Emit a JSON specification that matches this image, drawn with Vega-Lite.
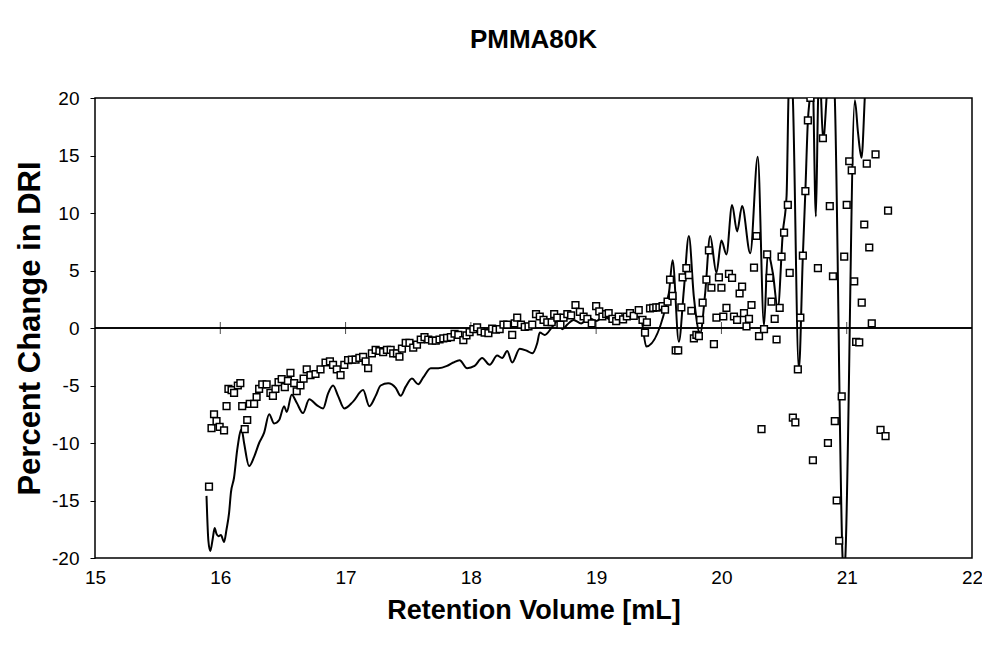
{
  "$schema": "https://vega.github.io/schema/vega-lite/v6.json",
  "width": 877,
  "height": 460,
  "autosize": {"type": "none"},
  "padding": {"left": 95, "top": 98, "right": 10, "bottom": 87},
  "background": "white",
  "title": {"text": "PMMA80K", "fontSize": 26, "font": "Liberation Sans", "fontWeight": "bold", "anchor": "middle", "offset": 36, "color": "black"},
  "config": {"view": {"stroke": "black", "strokeWidth": 1.5}, "font": "Liberation Sans"},
  "datasets": {
    "squares": [
      {"volume": 15.91, "change": -13.8}, {"volume": 15.93, "change": -8.7}, {"volume": 15.95, "change": -7.5}, {"volume": 15.97, "change": -8.1},
      {"volume": 15.995, "change": -8.6}, {"volume": 16.03, "change": -8.9}, {"volume": 16.05, "change": -6.8}, {"volume": 16.065, "change": -5.3},
      {"volume": 16.09, "change": -5.4}, {"volume": 16.11, "change": -5.65}, {"volume": 16.14, "change": -5.0}, {"volume": 16.16, "change": -4.8},
      {"volume": 16.175, "change": -6.8}, {"volume": 16.195, "change": -8.8}, {"volume": 16.215, "change": -8.0}, {"volume": 16.235, "change": -6.6},
      {"volume": 16.27, "change": -6.6}, {"volume": 16.29, "change": -6.0}, {"volume": 16.31, "change": -5.3}, {"volume": 16.335, "change": -4.9},
      {"volume": 16.37, "change": -4.9}, {"volume": 16.4, "change": -5.65}, {"volume": 16.42, "change": -5.9}, {"volume": 16.44, "change": -5.3},
      {"volume": 16.465, "change": -4.7}, {"volume": 16.49, "change": -4.45}, {"volume": 16.515, "change": -5.15}, {"volume": 16.54, "change": -4.6},
      {"volume": 16.56, "change": -3.9}, {"volume": 16.59, "change": -4.8}, {"volume": 16.61, "change": -5.5}, {"volume": 16.64, "change": -5.0},
      {"volume": 16.665, "change": -4.4}, {"volume": 16.69, "change": -3.6}, {"volume": 16.72, "change": -4.1}, {"volume": 16.76, "change": -4.0},
      {"volume": 16.8, "change": -3.6}, {"volume": 16.84, "change": -3.0}, {"volume": 16.875, "change": -2.9}, {"volume": 16.9, "change": -3.2},
      {"volume": 16.93, "change": -3.6}, {"volume": 16.96, "change": -4.1}, {"volume": 16.99, "change": -3.2}, {"volume": 17.02, "change": -2.8},
      {"volume": 17.05, "change": -2.75}, {"volume": 17.08, "change": -2.75}, {"volume": 17.11, "change": -2.6}, {"volume": 17.14, "change": -2.5},
      {"volume": 17.16, "change": -2.9}, {"volume": 17.18, "change": -3.5}, {"volume": 17.21, "change": -2.2}, {"volume": 17.24, "change": -1.9},
      {"volume": 17.27, "change": -2.0}, {"volume": 17.3, "change": -2.1}, {"volume": 17.33, "change": -1.9}, {"volume": 17.36, "change": -1.9},
      {"volume": 17.38, "change": -2.2}, {"volume": 17.41, "change": -2.2}, {"volume": 17.43, "change": -2.5}, {"volume": 17.45, "change": -1.8},
      {"volume": 17.48, "change": -1.3}, {"volume": 17.51, "change": -1.3}, {"volume": 17.54, "change": -1.7}, {"volume": 17.57, "change": -1.45},
      {"volume": 17.6, "change": -1.0}, {"volume": 17.63, "change": -0.8}, {"volume": 17.66, "change": -1.0}, {"volume": 17.69, "change": -1.1},
      {"volume": 17.72, "change": -1.1}, {"volume": 17.75, "change": -1.0}, {"volume": 17.78, "change": -0.9}, {"volume": 17.81, "change": -0.85},
      {"volume": 17.84, "change": -0.8}, {"volume": 17.87, "change": -0.5}, {"volume": 17.9, "change": -0.6}, {"volume": 17.94, "change": -1.05},
      {"volume": 17.965, "change": -0.65}, {"volume": 17.99, "change": -0.35}, {"volume": 18.02, "change": -0.1}, {"volume": 18.05, "change": 0.05},
      {"volume": 18.08, "change": -0.3}, {"volume": 18.11, "change": -0.4}, {"volume": 18.14, "change": -0.45}, {"volume": 18.17, "change": -0.05},
      {"volume": 18.2, "change": -0.15}, {"volume": 18.23, "change": -0.1}, {"volume": 18.26, "change": 0.3}, {"volume": 18.29, "change": 0.3},
      {"volume": 18.33, "change": -0.6}, {"volume": 18.35, "change": 0.4}, {"volume": 18.37, "change": 0.9}, {"volume": 18.4, "change": 0.3},
      {"volume": 18.43, "change": 0.1}, {"volume": 18.46, "change": 0.15}, {"volume": 18.49, "change": 0.3}, {"volume": 18.52, "change": 1.2},
      {"volume": 18.55, "change": 1.0}, {"volume": 18.58, "change": 0.7}, {"volume": 18.61, "change": 0.5}, {"volume": 18.645, "change": 0.5},
      {"volume": 18.665, "change": 1.2}, {"volume": 18.69, "change": 0.9}, {"volume": 18.715, "change": 0.3}, {"volume": 18.74, "change": 0.9},
      {"volume": 18.77, "change": 1.2}, {"volume": 18.8, "change": 1.1}, {"volume": 18.835, "change": 2.0}, {"volume": 18.87, "change": 1.4},
      {"volume": 18.9, "change": 1.0}, {"volume": 18.93, "change": 0.8}, {"volume": 18.965, "change": 0.4}, {"volume": 19.0, "change": 1.9},
      {"volume": 19.025, "change": 1.45}, {"volume": 19.05, "change": 1.0}, {"volume": 19.08, "change": 1.2}, {"volume": 19.1, "change": 1.3},
      {"volume": 19.13, "change": 0.8}, {"volume": 19.16, "change": 0.6}, {"volume": 19.18, "change": 1.0}, {"volume": 19.215, "change": 0.75},
      {"volume": 19.245, "change": 1.0}, {"volume": 19.27, "change": 1.3}, {"volume": 19.3, "change": 1.05}, {"volume": 19.34, "change": 1.55},
      {"volume": 19.37, "change": 0.7}, {"volume": 19.39, "change": -0.4}, {"volume": 19.405, "change": 0.5}, {"volume": 19.43, "change": 1.7},
      {"volume": 19.455, "change": 1.75}, {"volume": 19.48, "change": 1.8}, {"volume": 19.505, "change": 1.8}, {"volume": 19.53, "change": 1.9},
      {"volume": 19.55, "change": 1.6}, {"volume": 19.57, "change": 2.3}, {"volume": 19.59, "change": 4.2}, {"volume": 19.61, "change": 2.8},
      {"volume": 19.635, "change": -1.95}, {"volume": 19.655, "change": -1.95}, {"volume": 19.68, "change": 1.8}, {"volume": 19.69, "change": 4.4},
      {"volume": 19.72, "change": 5.2}, {"volume": 19.74, "change": 4.6}, {"volume": 19.76, "change": 1.5}, {"volume": 19.78, "change": -0.9},
      {"volume": 19.8, "change": -0.6}, {"volume": 19.82, "change": -0.7}, {"volume": 19.83, "change": 0.7}, {"volume": 19.85, "change": 2.2},
      {"volume": 19.88, "change": 4.2}, {"volume": 19.9, "change": 6.75}, {"volume": 19.92, "change": 3.5}, {"volume": 19.94, "change": -1.4},
      {"volume": 19.96, "change": 0.9}, {"volume": 19.98, "change": 4.4}, {"volume": 20.0, "change": 3.5}, {"volume": 20.015, "change": 1.0},
      {"volume": 20.04, "change": 1.75}, {"volume": 20.06, "change": 4.7}, {"volume": 20.085, "change": 4.35}, {"volume": 20.1, "change": 1.0},
      {"volume": 20.125, "change": 0.7}, {"volume": 20.145, "change": 3.0}, {"volume": 20.165, "change": 3.6}, {"volume": 20.18, "change": 1.3},
      {"volume": 20.2, "change": 0.15}, {"volume": 20.22, "change": 0.8}, {"volume": 20.24, "change": 2.0}, {"volume": 20.26, "change": 5.25},
      {"volume": 20.28, "change": 8.0}, {"volume": 20.3, "change": -0.7}, {"volume": 20.32, "change": -8.8}, {"volume": 20.34, "change": -0.1},
      {"volume": 20.365, "change": 6.4}, {"volume": 20.385, "change": 4.35}, {"volume": 20.4, "change": 2.3}, {"volume": 20.425, "change": 0.8},
      {"volume": 20.44, "change": -1.0}, {"volume": 20.465, "change": 1.75}, {"volume": 20.48, "change": 6.2}, {"volume": 20.5, "change": 8.3},
      {"volume": 20.53, "change": 10.7}, {"volume": 20.545, "change": 4.8}, {"volume": 20.57, "change": -7.8}, {"volume": 20.59, "change": -8.2},
      {"volume": 20.61, "change": -3.6}, {"volume": 20.63, "change": 0.9}, {"volume": 20.65, "change": 6.3}, {"volume": 20.67, "change": 11.9},
      {"volume": 20.69, "change": 18.05}, {"volume": 20.71, "change": 20.0}, {"volume": 20.73, "change": -11.5}, {"volume": 20.77, "change": 5.2},
      {"volume": 20.81, "change": 16.5}, {"volume": 20.85, "change": -10.0}, {"volume": 20.865, "change": 10.6}, {"volume": 20.89, "change": 4.5},
      {"volume": 20.905, "change": -8.1}, {"volume": 20.92, "change": -15.0}, {"volume": 20.94, "change": -18.5}, {"volume": 20.96, "change": -5.95},
      {"volume": 20.98, "change": 6.2}, {"volume": 21.0, "change": 10.7}, {"volume": 21.02, "change": 14.5}, {"volume": 21.04, "change": 13.7},
      {"volume": 21.06, "change": 4.05}, {"volume": 21.075, "change": -1.2}, {"volume": 21.1, "change": -1.25}, {"volume": 21.12, "change": 2.2},
      {"volume": 21.14, "change": 9.0}, {"volume": 21.16, "change": 14.3}, {"volume": 21.18, "change": 7.0}, {"volume": 21.2, "change": 0.4},
      {"volume": 21.23, "change": 15.1}, {"volume": 21.27, "change": -8.85}, {"volume": 21.31, "change": -9.4}, {"volume": 21.33, "change": 10.2}
    ],
    "curve": [
      {"volume": 15.89, "change": -14.6}, {"volume": 15.905, "change": -18.5}, {"volume": 15.92, "change": -19.4}, {"volume": 15.94, "change": -18.3},
      {"volume": 15.955, "change": -17.4}, {"volume": 15.97, "change": -17.9}, {"volume": 15.985, "change": -18.1}, {"volume": 16.005, "change": -18.0},
      {"volume": 16.03, "change": -18.6}, {"volume": 16.05, "change": -17.5}, {"volume": 16.07, "change": -16.1}, {"volume": 16.085, "change": -14.3},
      {"volume": 16.11, "change": -13.0}, {"volume": 16.135, "change": -10.6}, {"volume": 16.17, "change": -8.8}, {"volume": 16.19, "change": -10.0},
      {"volume": 16.23, "change": -12.0}, {"volume": 16.27, "change": -11.2}, {"volume": 16.31, "change": -10.0}, {"volume": 16.35, "change": -9.1},
      {"volume": 16.39, "change": -7.5}, {"volume": 16.43, "change": -8.3}, {"volume": 16.47, "change": -8.0}, {"volume": 16.51, "change": -6.8},
      {"volume": 16.53, "change": -7.3}, {"volume": 16.57, "change": -5.8}, {"volume": 16.61, "change": -6.5}, {"volume": 16.66, "change": -7.4},
      {"volume": 16.71, "change": -6.2}, {"volume": 16.77, "change": -6.7}, {"volume": 16.82, "change": -7.0}, {"volume": 16.86, "change": -5.7},
      {"volume": 16.9, "change": -5.0}, {"volume": 16.94, "change": -5.9}, {"volume": 16.99, "change": -7.0}, {"volume": 17.06, "change": -6.4},
      {"volume": 17.14, "change": -5.4}, {"volume": 17.19, "change": -6.8}, {"volume": 17.24, "change": -5.9}, {"volume": 17.28, "change": -5.0},
      {"volume": 17.34, "change": -4.8}, {"volume": 17.4, "change": -5.2}, {"volume": 17.44, "change": -5.9}, {"volume": 17.48, "change": -5.1},
      {"volume": 17.53, "change": -4.4}, {"volume": 17.58, "change": -4.9}, {"volume": 17.62, "change": -4.3}, {"volume": 17.68, "change": -3.5},
      {"volume": 17.74, "change": -3.5}, {"volume": 17.81, "change": -3.3}, {"volume": 17.86, "change": -3.0}, {"volume": 17.91, "change": -2.8},
      {"volume": 17.97, "change": -3.5}, {"volume": 18.03, "change": -3.3}, {"volume": 18.09, "change": -2.6}, {"volume": 18.15, "change": -3.2},
      {"volume": 18.21, "change": -2.4}, {"volume": 18.25, "change": -2.6}, {"volume": 18.29, "change": -2.0}, {"volume": 18.33, "change": -3.0},
      {"volume": 18.39, "change": -1.8}, {"volume": 18.45, "change": -2.0}, {"volume": 18.49, "change": -2.2}, {"volume": 18.53, "change": -1.3},
      {"volume": 18.55, "change": -0.4}, {"volume": 18.59, "change": -0.6}, {"volume": 18.65, "change": 0.1}, {"volume": 18.69, "change": 0.6},
      {"volume": 18.73, "change": -0.1}, {"volume": 18.77, "change": 0.3}, {"volume": 18.82, "change": 0.7}, {"volume": 18.88, "change": 0.4},
      {"volume": 18.94, "change": 0.9}, {"volume": 19.0, "change": 0.6}, {"volume": 19.06, "change": 1.0}, {"volume": 19.12, "change": 0.7},
      {"volume": 19.18, "change": 1.0}, {"volume": 19.24, "change": 0.8}, {"volume": 19.3, "change": 1.1}, {"volume": 19.36, "change": 0.7},
      {"volume": 19.4, "change": -1.6}, {"volume": 19.58, "change": 3.0}, {"volume": 19.61, "change": 5.9}, {"volume": 19.66, "change": -1.2},
      {"volume": 19.7, "change": 3.3}, {"volume": 19.74, "change": 8.0}, {"volume": 19.78, "change": 2.7}, {"volume": 19.83, "change": -0.5},
      {"volume": 19.87, "change": 3.0}, {"volume": 19.91, "change": 8.0}, {"volume": 19.96, "change": 4.8}, {"volume": 20.0, "change": 7.6},
      {"volume": 20.04, "change": 6.4}, {"volume": 20.085, "change": 10.7}, {"volume": 20.125, "change": 8.4}, {"volume": 20.165, "change": 10.6},
      {"volume": 20.23, "change": 6.5}, {"volume": 20.29, "change": 14.9}, {"volume": 20.34, "change": 0.2}, {"volume": 20.37, "change": 6.5},
      {"volume": 20.41, "change": 4.8}, {"volume": 20.45, "change": 1.7}, {"volume": 20.49, "change": 8.3}, {"volume": 20.52, "change": 11.5},
      {"volume": 20.535, "change": 20.0}, {"volume": 20.55, "change": 24.0}, {"volume": 20.57, "change": 20.0}, {"volume": 20.618, "change": -3.6},
      {"volume": 20.65, "change": 6.3}, {"volume": 20.67, "change": 11.9}, {"volume": 20.69, "change": 18.0}, {"volume": 20.705, "change": 20.0},
      {"volume": 20.725, "change": 23.0}, {"volume": 20.754, "change": 9.7}, {"volume": 20.772, "change": 20.0}, {"volume": 20.785, "change": 22.0},
      {"volume": 20.812, "change": 16.3}, {"volume": 20.839, "change": 20.0}, {"volume": 20.87, "change": 26.0}, {"volume": 20.905, "change": 20.0},
      {"volume": 20.967, "change": -20.0}, {"volume": 20.978, "change": -22.0}, {"volume": 20.989, "change": -20.0}, {"volume": 21.065, "change": 19.8},
      {"volume": 21.09, "change": 17.0}, {"volume": 21.118, "change": 14.8}, {"volume": 21.144, "change": 20.0}, {"volume": 21.16, "change": 24.0}
    ],
    "zeroTicks": [
      {"volume": 16, "change": 0}, {"volume": 17, "change": 0}, {"volume": 18, "change": 0},
      {"volume": 19, "change": 0}, {"volume": 20, "change": 0}, {"volume": 21, "change": 0}
    ]
  },
  "encoding": {
    "x": {
      "field": "volume", "type": "quantitative",
      "scale": {"domain": [15, 22], "nice": false, "zero": false},
      "axis": {
        "values": [15, 16, 17, 18, 19, 20, 21, 22], "format": "d", "ticks": false, "domain": false, "grid": false,
        "labelFontSize": 19, "labelPadding": 10, "labelColor": "black", "labelFlush": false, "labelOverlap": false,
        "title": "Retention Volume [mL]", "titleFontSize": 27, "titleFontWeight": "bold", "titleColor": "black", "titlePadding": 10
      }
    },
    "y": {
      "field": "change", "type": "quantitative",
      "scale": {"domain": [-20, 20], "nice": false},
      "axis": {
        "values": [-20, -15, -10, -5, 0, 5, 10, 15, 20], "labelExpr": "toString(datum.value)", "tickSize": 5, "tickColor": "black", "tickWidth": 1, "domain": false, "grid": false,
        "labelFontSize": 19, "labelPadding": 11, "labelColor": "black", "labelFlush": false, "labelOverlap": false,
        "title": "Percent Change in DRI", "titleFontSize": 31, "titleFontWeight": "bold", "titleColor": "black", "titlePadding": 5
      }
    }
  },
  "layer": [
    {
      "data": {"name": "zeroTicks"},
      "mark": {"type": "rule", "color": "black", "strokeWidth": 0.8},
      "encoding": {
        "x": {"datum": 15, "type": "quantitative"},
        "x2": {"datum": 22}
      }
    },
    {
      "data": {"name": "zeroTicks"},
      "mark": {"type": "tick", "orient": "vertical", "color": "black", "size": 12, "thickness": 1}
    },
    {
      "data": {"name": "curve"},
      "mark": {"type": "line", "color": "black", "strokeWidth": 2, "interpolate": "monotone", "clip": true}
    },
    {
      "data": {"name": "squares"},
      "mark": {"type": "point", "shape": "square", "filled": true, "fill": "white", "stroke": "black", "strokeWidth": 1.5, "size": 45, "opacity": 1, "clip": true}
    }
  ]
}
